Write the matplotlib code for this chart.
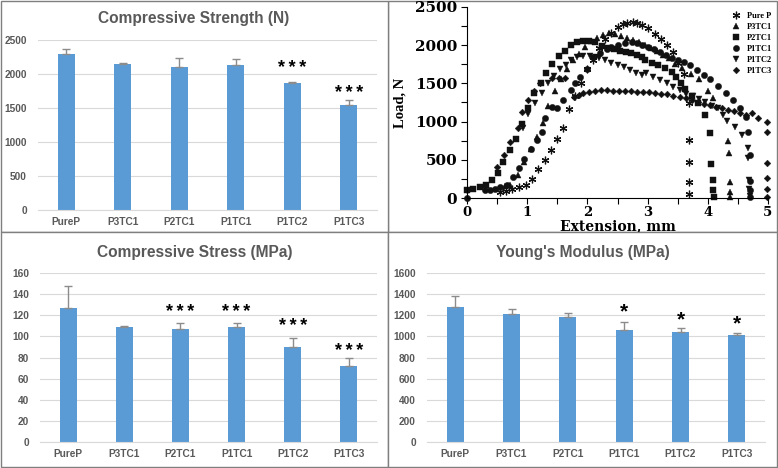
import matplotlib
matplotlib.use('Agg')
import matplotlib.pyplot as plt
from matplotlib.patches import Rectangle
from matplotlib.ticker import MultipleLocator

# bar chart data
samples = ['PureP', 'P3TC1', 'P2TC1', 'P1TC1', 'P1TC2', 'P1TC3']

STARS3 = '*\u2009*\u2009*'

strength = [2300, 2140, 2110, 2135, 1870, 1545]
strength_err = [70, 25, 120, 85, 15, 70]
strength_stars = ['', '', '', '', STARS3, STARS3]
strength_star_y = [0, 0, 0, 0, 2074, 1720]

stress = [127, 109, 107, 108.5, 90, 72]
stress_err = [21, 1, 6, 4.5, 8.5, 7.5]
stress_stars = ['', '', STARS3, STARS3, STARS3, STARS3]
stress_star_y = [0, 0, 123, 123, 109, 86]

modulus = [1275, 1210, 1180, 1065, 1040, 1015]
modulus_err = [105, 50, 40, 75, 35, 20]
modulus_stars = ['', '', '', '*', '*', '*']
modulus_star_y = [0, 0, 0, 1231, 1155, 1117]

# load-extension curves
pure_x = [0.55, 0.65, 0.75, 0.86, 0.98, 1.08, 1.18, 1.29, 1.39, 1.49, 1.59, 1.69, 1.79, 1.90, 2.00,
          2.10, 2.20, 2.29, 2.40, 2.50, 2.59, 2.66, 2.75, 2.83, 2.90, 3.00, 3.12, 3.22, 3.32, 3.42,
          3.51, 3.60, 3.69, 3.69, 3.69, 3.69, 3.69]
pure_y = [85, 95, 120, 145, 175, 255, 375, 495, 630, 770, 910, 1165, 1340, 1510, 1690,
          1806, 1960, 2077, 2155, 2243, 2278, 2295, 2300, 2295, 2265, 2220, 2147, 2080, 2003, 1915,
          1770, 1620, 1245, 755, 465, 210, 55]

p3tc1_x = [0.63, 0.71, 0.85, 0.95, 1.06, 1.16, 1.26, 1.35, 1.46, 1.56, 1.66, 1.76, 1.86, 1.96,
           2.06, 2.16, 2.26, 2.36, 2.46, 2.56, 2.66, 2.76, 2.86, 2.96, 3.06, 3.16, 3.26, 3.36,
           3.46, 3.57, 3.72, 3.86, 4.01, 4.08, 4.34, 4.36, 4.37, 4.37, 4.37]
p3tc1_y = [157, 170, 301, 471, 640, 795, 978, 1204, 1395, 1560, 1690, 1800, 1890, 1975,
           2050, 2100, 2140, 2165, 2150, 2125, 2100, 2070, 2040, 2000, 1960, 1920, 1870, 1830,
           1760, 1700, 1620, 1560, 1400, 1305, 750, 585, 213, 82, 10]

p2tc1_x = [0.00, 0.10, 0.22, 0.32, 0.42, 0.51, 0.59, 0.71, 0.81, 0.91, 1.02, 1.12, 1.23, 1.32,
           1.42, 1.53, 1.63, 1.72, 1.83, 1.93, 2.03, 2.13, 2.24, 2.35, 2.44, 2.54, 2.64, 2.72,
           2.82, 2.90, 2.96, 3.07, 3.18, 3.29, 3.40, 3.48, 3.55, 3.62, 3.73, 3.84, 3.95, 4.04,
           4.06, 4.09, 4.09, 4.10]
p2tc1_y = [100, 113, 140, 166, 236, 331, 475, 628, 770, 969, 1174, 1370, 1510, 1632,
           1754, 1859, 1928, 2003, 2038, 2055, 2059, 2040, 1990, 1959, 1946, 1928, 1915, 1902,
           1876, 1850, 1806, 1771, 1741, 1698, 1653, 1580, 1501, 1423, 1330, 1240, 1087, 855,
           441, 236, 107, 15]

p1tc1_x = [0.00, 0.30, 0.38, 0.47, 0.55, 0.66, 0.77, 0.86, 0.95, 1.07, 1.16, 1.24, 1.30, 1.41,
           1.50, 1.60, 1.72, 1.80, 1.88, 2.00, 2.10, 2.21, 2.32, 2.40, 2.51, 2.62, 2.74, 2.82,
           2.90, 3.00, 3.10, 3.20, 3.30, 3.40, 3.50, 3.60, 3.70, 3.82, 3.93, 4.04, 4.17, 4.30,
           4.42, 4.53, 4.63, 4.67, 4.70, 4.70, 4.70, 4.70]
p1tc1_y = [0, 105, 105, 113, 140, 170, 271, 390, 507, 637, 760, 868, 1043, 1195,
           1180, 1283, 1414, 1500, 1588, 1685, 1840, 1902, 1946, 1972, 2003, 2025, 2038, 2025,
           2003, 1980, 1950, 1910, 1870, 1830, 1800, 1780, 1740, 1675, 1610, 1553, 1466, 1378,
           1283, 1174, 1056, 868, 563, 228, 105, 18]

p1tc2_x = [0.93, 1.02, 1.13, 1.24, 1.34, 1.44, 1.54, 1.64, 1.73, 1.82, 1.93, 2.04, 2.14, 2.20,
           2.29, 2.39, 2.50, 2.60, 2.71, 2.81, 2.90, 2.98, 3.09, 3.21, 3.32, 3.42, 3.53, 3.64,
           3.75, 3.86, 3.96, 4.07, 4.17, 4.26, 4.32, 4.45, 4.56, 4.66, 4.67, 4.69, 4.69, 4.70]
p1tc2_y = [920, 1095, 1240, 1370, 1500, 1600, 1690, 1741, 1800, 1850, 1859, 1859, 1850, 1830,
           1806, 1771, 1741, 1711, 1675, 1640, 1610, 1632, 1580, 1545, 1501, 1457, 1414, 1361,
           1330, 1290, 1250, 1210, 1174, 1087, 1012, 933, 825, 650, 520, 236, 113, 30]

p1tc3_x = [0.00, 0.50, 0.61, 0.71, 0.84, 0.92, 1.02, 1.11, 1.22, 1.41, 1.52, 1.62, 1.77, 1.86,
           1.93, 2.03, 2.13, 2.23, 2.33, 2.43, 2.53, 2.63, 2.73, 2.83, 2.93, 3.03, 3.13, 3.23,
           3.33, 3.43, 3.53, 3.63, 3.73, 3.83, 3.93, 4.03, 4.13, 4.23, 4.33, 4.43, 4.53, 4.63,
           4.73, 4.84, 4.98, 4.98, 4.99, 4.99, 4.99, 4.99]
p1tc3_y = [100, 400, 563, 737, 912, 1130, 1283, 1400, 1500, 1567, 1567, 1567, 1326, 1350,
           1370, 1385, 1400, 1410, 1410, 1405, 1400, 1398, 1395, 1392, 1390, 1385, 1375, 1365,
           1355, 1340, 1325, 1305, 1285, 1260, 1235, 1215, 1195, 1175, 1155, 1135, 1115, 1090,
           1108, 1043, 991, 868, 460, 262, 114, 10]

curves = [
    ('Pure P', pure_x, pure_y, (6, 2, 0), 5.5),
    ('P3TC1', p3tc1_x, p3tc1_y, '^', 4.5),
    ('P2TC1', p2tc1_x, p2tc1_y, 's', 4.0),
    ('P1TC1', p1tc1_x, p1tc1_y, 'o', 4.5),
    ('P1TC2', p1tc2_x, p1tc2_y, 'v', 4.5),
    ('P1TC3', p1tc3_x, p1tc3_y, 'D', 3.4),
]

W, H = 778, 468
BLUE = '#5B9BD5'
GREY_TEXT = '#595959'
GRID = '#D9D9D9'
ERR = '#8C8C8C'
SANS = ['Liberation Sans', 'DejaVu Sans']
SERIF = ['Liberation Serif', 'DejaVu Serif']
WIDE_SERIF = ['DejaVu Serif']

fig = plt.figure(figsize=(W / 100, H / 100), dpi=100)
fig.patch.set_facecolor('white')


def px_axes(left, top, right, bottom):
    return [left / W, 1 - bottom / H, (right - left) / W, (bottom - top) / H]


def panel_box(left, top, right, bottom, z=1):
    fig.add_artist(Rectangle((left / W, 1 - bottom / H), (right - left) / W, (bottom - top) / H,
                             transform=fig.transFigure, facecolor='white', edgecolor='#7F7F7F',
                             linewidth=1.0, zorder=z))


def bar_panel(rect, values, errs, stars, star_y, ymax, ystep, title, title_xy, star_size):
    ax = fig.add_axes(rect)
    ax.set_facecolor('none')
    ax.set_zorder(2)
    x = range(len(samples))
    ax.bar(x, values, width=0.3, color=BLUE, zorder=2)
    ax.errorbar(x, values, yerr=[[0] * len(errs), errs], fmt='none', ecolor=ERR,
                elinewidth=1.0, capsize=3, capthick=1.0, zorder=3)
    for i, s in enumerate(stars):
        if s:
            ax.text(i, star_y[i], s, ha='center', va='center', fontsize=star_size,
                    fontweight='bold', family=SANS, color='black', zorder=4)
    ax.set_xlim(-0.5, len(samples) - 0.5)
    ax.set_ylim(0, ymax)
    ax.yaxis.set_major_locator(MultipleLocator(ystep))
    ax.grid(axis='y', color=GRID, linewidth=0.8, zorder=0)
    ax.set_axisbelow(True)
    for side in ['top', 'right', 'left']:
        ax.spines[side].set_visible(False)
    ax.spines['bottom'].set_color(GRID)
    ax.set_xticks(list(x))
    ax.set_xticklabels(samples)
    ax.tick_params(length=0, labelsize=7.3, labelcolor=GREY_TEXT, pad=5)
    ax.tick_params(axis='y', pad=8)
    for lab in ax.get_xticklabels() + ax.get_yticklabels():
        lab.set_fontweight('bold')
        lab.set_family(SANS)
    fig.text(title_xy[0] / W, 1 - title_xy[1] / H, title, ha='center', va='center',
             fontsize=11.2, fontweight='bold', color=GREY_TEXT, family=SANS, zorder=5)
    return ax


# panel frames
panel_box(1, 1, 388, 232)
panel_box(388, 1, 777, 232, z=0)
panel_box(1, 232, 388, 467)
panel_box(388, 232, 777, 467)

bar_panel(px_axes(38, 40, 377, 210), strength, strength_err, strength_stars, strength_star_y,
          2500, 500, 'Compressive Strength (N)', (194, 19), 13)
bar_panel(px_axes(40, 273, 377, 442), stress, stress_err, stress_stars, stress_star_y,
          160, 20, 'Compressive Stress (MPa)', (195, 252), 13)
bar_panel(px_axes(427, 273, 765, 442), modulus, modulus_err, modulus_stars, modulus_star_y,
          1600, 200, "Young's Modulus (MPa)", (583, 252), 15)

# load-extension scatter
ax = fig.add_axes(px_axes(467, 7, 768, 198))
ax.set_facecolor('none')
for label, xs, ys, mk, ms in curves:
    ax.plot(xs, ys, linestyle='none', marker=mk, markersize=ms, color='#111111',
            markeredgewidth=0.9 if mk == (6, 2, 0) else 0.3, label=label, clip_on=False)
ax.set_xlim(0, 5)
ax.set_ylim(0, 2500)
ax.xaxis.set_major_locator(MultipleLocator(1))
ax.xaxis.set_minor_locator(MultipleLocator(0.5))
ax.yaxis.set_major_locator(MultipleLocator(500))
ax.yaxis.set_minor_locator(MultipleLocator(250))
ax.spines['top'].set_visible(False)
ax.spines['right'].set_visible(False)
ax.tick_params(which='both', direction='out', length=4, width=0.8, pad=2)
ax.tick_params(axis='x', labelsize=9.5)
ax.tick_params(axis='y', labelsize=11, pad=3)
for lab in ax.get_xticklabels() + ax.get_yticklabels():
    lab.set_fontweight('bold')
    lab.set_family(WIDE_SERIF)
ax.set_xlabel('Extension, mm', fontsize=10, fontweight='bold', family=WIDE_SERIF, va='center')
ax.xaxis.set_label_coords(0.5, -28.5 / 191)
ax.set_ylabel('Load, N', fontsize=10.5, fontweight='bold', family=SERIF, labelpad=6)
leg = ax.legend(loc='upper right', bbox_to_anchor=(1.03, 1.0), frameon=False,
                prop={'family': SERIF, 'weight': 'bold', 'size': 6},
                handlelength=1.0, handletextpad=0.8, labelspacing=0.35, borderaxespad=0.2)

fig.savefig('out.png', dpi=100, facecolor='white')
